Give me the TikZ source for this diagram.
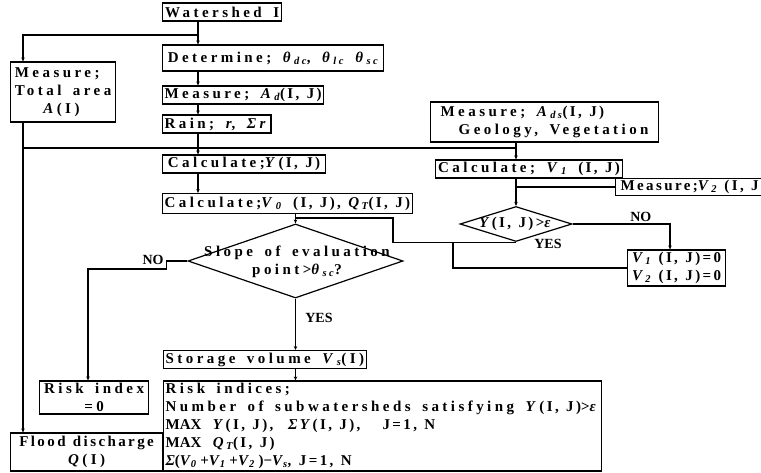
\documentclass[tikz,border=0pt]{standalone}
\usepackage{fontspec}
\setmainfont{Liberation Serif}
\newfontfamily\spfont{Liberation Serif}[LetterSpace=23, WordSpace=1.6]
\newfontfamily\mfont{Liberation Serif}[LetterSpace=16, WordSpace=1.2]
\usetikzlibrary{shapes.geometric,arrows.meta}
\newcommand{\lo}[1]{\textsubscript{\itshape #1}}
\newcommand{\idx}{{\mfont(I, J)}}

\begin{document}
\begin{tikzpicture}[x=1pt, y=-1pt,
    every node/.style={font=\spfont\bfseries\fontsize{15}{18}\selectfont},
    bx/.style={draw, line width=1.2pt, inner sep=2pt, align=left, anchor=west},
    bxc/.style={bx, align=center},
    dia/.style={draw, diamond, line width=1.2pt, inner sep=0pt},
    arr/.style={-{Stealth[length=4pt,width=3.5pt]}, line width=1.2pt},
    ln/.style={line width=1.2pt},
    lbl/.style={font=\rmfamily\bfseries\fontsize{14}{16}\selectfont, inner sep=0pt},
  ]
  \useasboundingbox (0,0) rectangle (761,472);

  % === Main column ===
  \node[bx, minimum width=119pt, minimum height=18pt] (ws)    at (162,12)    {Watershed\ I};
  \node[bx, minimum width=221pt, minimum height=26pt] (det)   at (162,58)    {Determine; \textit{θ}\lo{dc}, \textit{θ}\lo{lc} \textit{θ}\lo{sc}};
  \node[bx, minimum width=154pt, minimum height=18pt] (mad)   at (162,95)    {Measure; \textit{A}\lo{d}\idx};
  \node[bx, minimum width=98pt,  minimum height=18pt] (rain)  at (162,124)   {Rain; \textit{r}, \textit{Σr}};
  \node[bx, minimum width=163pt, minimum height=18pt] (caly)  at (162,164)   {Calculate;\textit{Y}\idx};
  \node[bx, minimum width=249pt, minimum height=20pt] (calv0) at (162,203.5) {Calculate;\textit{V}\lo{0} {\mfont\idx, \textit{Q}\lo{T}\idx}};

  % === Left column ===
  \node[bx, minimum width=105pt, minimum height=60pt] (mt)    at (10,92)     {Measure;\\Total area\\\hspace*{1.9em}\textit{A}(I)};
  \node[bxc, minimum width=109pt, minimum height=33pt] (r0)   at (39,397.5)  {Risk index\\=0};
  \node[bxc, minimum width=152pt, minimum height=38pt] (flood) at (10,452)   {{\mfont Flood\ discharge}\\\textit{Q}(I)};

  % === Right column ===
  \node[bx, minimum width=228pt, minimum height=40pt] (ads)   at (430,122)   {Measure; \textit{A}\lo{ds}\idx\\\hspace*{1.2em}Geology, Vegetation};
  \node[bx, minimum width=187pt, minimum height=18pt] (calv1) at (435,169)   {Calculate; \textit{V}\lo{1} \idx};
  \node[bx, minimum width=148pt, minimum height=17pt] (mv2)   at (615,187)   {{\mfont Measure;\textit{V}\lo{2} (I, J}};
  \node[bx, minimum width=98pt,  minimum height=36pt] (vz)    at (627,268)   {{\mfont\textit{V}\lo{1} (I, J)=0}\\{\mfont\textit{V}\lo{2} (I, J)=0}};

  % === Decisions ===
  \node[dia, minimum width=112pt, minimum height=35pt] (sd) at (516,224) {};
  \node (sdt) at (516,224) {{\mfont\textit{Y}(I, J)>\textit{ε}}};
  \node[dia, minimum width=215pt, minimum height=74pt] (bd) at (295.5,261) {};
  \node[align=center] (bdt) at (297,262) {Slope of evaluation\\point>\textit{θ}\lo{sc}?};

  % === Bottom boxes ===
  \node[bx, minimum width=152pt, minimum height=17pt] (stor) at (163,359.5) {Storage volume \textit{V}\lo{s}(I)};
  \node[bx, minimum width=431pt, minimum height=90pt] (risk) at (163,426) {Risk indices;\\
    Number of subwatersheds satisfying \textit{Y}\idx>\textit{ε}\\
    {\rmfamily MAX} {\mfont\textit{Y}(I, J),\ \ \textit{ΣY}(I, J),\ \ \ J=1, N}\\
    {\rmfamily MAX} {\mfont\textit{Q}\lo{T}(I, J)}\\
    {\rmfamily\textit{Σ}(\textit{V}\lo{0} +\textit{V}\lo{1} +\textit{V}\lo{2} )−\textit{V}\lo{s},\ \ }{\mfont J=1, N}};

  % === Junction points ===
  \coordinate (cx) at (198,0);
  \coordinate (lx) at (23,0);
  \coordinate (nx) at (88,0);
  \coordinate (nox) at (670,0);
  \coordinate (j1) at (198,35);
  \coordinate (j2) at (23,148);
  \coordinate (j3) at (516,148);
  \coordinate (k1) at (295.5,218);
  \coordinate (k2) at (393,218);
  \coordinate (k3) at (453,243);
  \coordinate (m1) at (516,187);

  % === Main arrows ===
  \draw[arr] (ws.south -| cx)   -- (det.north -| cx);
  \draw[arr] (det.south -| cx)  -- (mad.north -| cx);
  \draw[arr] (mad.south -| cx)  -- (rain.north -| cx);
  \draw[arr] (rain.south -| cx) -- (caly.north -| cx);
  \draw[arr] (caly.south -| cx) -- (calv0.north -| cx);
  \draw[arr] (calv0.south -| bd.north) -- (bd.north);
  \draw[arr] (bd.south) -- (stor.north -| bd.south);
  \draw[arr] (stor.south -| bd.south) -- (risk.north -| bd.south);

  % === Left branch ===
  \draw[arr] (j1) -| (mt.north -| lx);
  \draw[arr] (mt.south -| lx) -- (flood.north -| lx);
  \draw[ln]  (j2) -- (j3);

  % === Right branch ===
  \draw[arr] (ads.south -| j3) -- (calv1.north -| j3);
  \draw[arr] (calv1.south -| sd.north) -- (sd.north);
  \draw[ln]  (m1) -- (m1 -| mv2.west);
  \draw[arr] (sd.east) -| (vz.north -| nox) node[lbl, pos=0.35, above=2pt] (no2) {NO};
  \node[lbl] (yes2) at (548,244) {YES};

  % === Loop back to V0 ===
  \draw[ln] (k1) -- (k2) |- (sd.south);
  \draw[ln] (k3) |- (vz.west);

  % === NO / YES of slope check ===
  \draw[arr] (bd.west) -- ++(-21,0) -- ++(0,8) -| (r0.north -| nx);
  \node[lbl] (no1) at (153,260) {NO};
  \node[lbl] (yes1) at (319,318) {YES};

\end{tikzpicture}
\end{document}
